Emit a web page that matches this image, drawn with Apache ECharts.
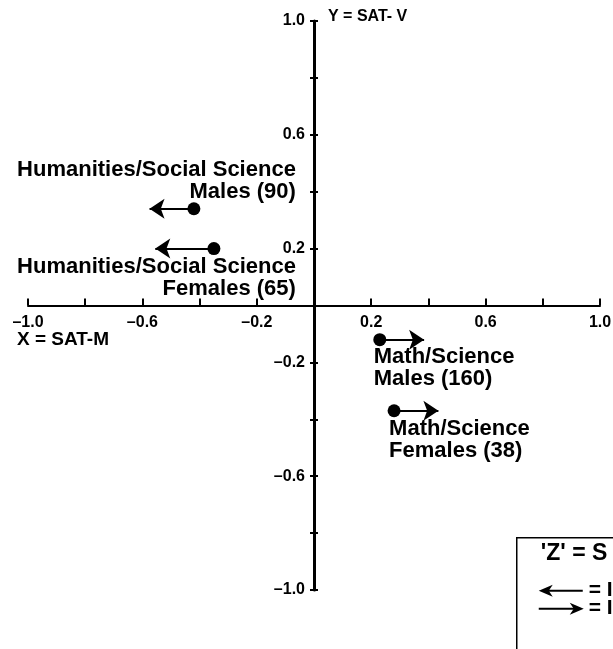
<!DOCTYPE html>
<html>
<head>
<meta charset="utf-8">
<script src="https://cdn.jsdelivr.net/npm/echarts@6/dist/echarts.min.js"></script>
<style>
  html, body { margin: 0; padding: 0; background: #fff; }
  #chart { width: 613px; height: 649px; }
</style>
</head>
<body>
<div id="chart"></div>
<script>
// groups, their (X = SAT-M, Y = SAT-V) position and where the arrow ends
const groupNames = [
  'Humanities/Social Science\nMales (90)',
  'Humanities/Social Science\nFemales (65)',
  'Math/Science\nMales (160)',
  'Math/Science\nFemales (38)',
];
const satM = [-0.42, -0.35, 0.23, 0.28];
const satV = [0.34, 0.20, -0.12, -0.37];
const arrowEnd = [-0.575, -0.555, 0.385, 0.435];

// tick labels (only every other tick gets one)
const tickValues = [-1.0, -0.6, -0.2, 0.2, 0.6, 1.0];
const tickLabels = ['–1.0', '–0.6', '–0.2', '0.2', '0.6', '1.0'];

const FONT = 'Liberation Sans';
// grid box, the axes are moved into its middle (the origin)
const GRID = { left: 28, right: 13, top: 21, bottom: 59 };
const W = 613, H = 649;
const midX = (W - GRID.left - GRID.right) / 2;
const midY = (H - GRID.top - GRID.bottom) / 2;

function tickFormatter(v) {
  const i = tickValues.findIndex((t) => Math.abs(t - v) < 1e-6);
  return i >= 0 ? tickLabels[i] : '';
}

// label placement for each group, relative to its dot
const labelPlace = [
  { align: 'right', offset: [102, -28] },
  { align: 'right', offset: [82, 29] },
  { align: 'left', offset: [-6, 28] },
  { align: 'left', offset: [-5, 29] },
];

const points = satM.map((x, i) => ({
  value: [x, satV[i]],
  name: groupNames[i],
  label: {
    show: true,
    position: 'inside',
    align: labelPlace[i].align,
    verticalAlign: 'middle',
    offset: labelPlace[i].offset,
    formatter: '{b}',
  },
}));

const arrows = satM.map((x, i) => [
  { coord: [x, satV[i]] },
  { coord: [arrowEnd[i], satV[i]] },
]);

const axisLabelStyle = {
  color: '#000',
  fontFamily: FONT,
  fontWeight: 'bold',
  fontSize: 16,
  formatter: tickFormatter,
};

const chart = echarts.init(document.getElementById('chart'));
chart.setOption({
  animation: false,
  backgroundColor: '#fff',
  grid: Object.assign({ outerBoundsMode: 'none', containLabel: false }, GRID),
  xAxis: {
    type: 'value',
    min: -1,
    max: 1,
    interval: 0.2,
    position: 'bottom',
    offset: -midY,
    splitLine: { show: false },
    axisLine: { onZero: false, lineStyle: { color: '#000', width: 2 } },
    axisTick: { inside: true, length: 7, lineStyle: { color: '#000', width: 2 } },
    axisLabel: Object.assign({ margin: 9, showMinLabel: true, showMaxLabel: true }, axisLabelStyle),
  },
  yAxis: [
    {
      type: 'value',
      min: -1,
      max: 1,
      interval: 0.2,
      position: 'left',
      offset: -midX,
      splitLine: { show: false },
      axisLine: { onZero: false, lineStyle: { color: '#000', width: 3 } },
      axisTick: { length: 4, lineStyle: { color: '#000', width: 2 } },
      axisLabel: Object.assign({ margin: 9, showMinLabel: true, showMaxLabel: true }, axisLabelStyle),
    },
    {
      type: 'value',
      min: -1,
      max: 1,
      interval: 0.2,
      position: 'left',
      offset: -midX,
      splitLine: { show: false },
      axisLine: { show: false, onZero: false },
      axisTick: { inside: true, length: 4, lineStyle: { color: '#000', width: 2 } },
      axisLabel: { show: false },
    },
  ],
  series: [
    {
      type: 'scatter',
      symbol: 'circle',
      symbolSize: 13,
      itemStyle: { color: '#000', opacity: 1 },
      label: {
        color: '#000',
        fontFamily: FONT,
        fontWeight: 'bold',
        fontSize: 22,
        lineHeight: 22,
      },
      emphasis: { disabled: true },
      data: points,
      z: 5,
      markLine: {
        silent: true,
        animation: false,
        symbol: ['none', 'arrow'],
        symbolSize: 15,
        label: { show: false },
        lineStyle: { color: '#000', width: 2, type: 'solid', opacity: 1 },
        itemStyle: { color: '#000' },
        emphasis: { disabled: true },
        data: arrows,
      },
    },
  ],
  graphic: [
    {
      type: 'text',
      left: 328,
      top: 9,
      style: { text: 'Y = SAT- V', fill: '#000', font: 'bold 16px "' + FONT + '"' },
    },
    {
      type: 'text',
      left: 17,
      top: 330,
      style: { text: 'X = SAT-M', fill: '#000', font: 'bold 19px "' + FONT + '"' },
    },
    {
      type: 'group',
      left: 516,
      top: 537,
      children: [
        { type: 'rect', shape: { x: 0, y: 0, width: 140, height: 140 }, style: { fill: '#fff', stroke: '#000', lineWidth: 1.5 } },
        { type: 'text', x: 24, y: 4, style: { text: "'Z' = S", fill: '#000', font: 'bold 23px "' + FONT + '"' } },
        { type: 'line', shape: { x1: 30, y1: 53, x2: 66, y2: 53 }, style: { stroke: '#000', lineWidth: 2 } },
        { type: 'polygon', shape: { points: [[22, 53], [36, 47], [32, 53], [36, 59]] }, style: { fill: '#000' } },
        { type: 'text', x: 72, y: 42, style: { text: '= I', fill: '#000', font: 'bold 21px "' + FONT + '"' } },
        { type: 'line', shape: { x1: 22, y1: 71, x2: 58, y2: 71 }, style: { stroke: '#000', lineWidth: 2 } },
        { type: 'polygon', shape: { points: [[67, 71], [53, 65], [57, 71], [53, 77]] }, style: { fill: '#000' } },
        { type: 'text', x: 72, y: 60, style: { text: '= I', fill: '#000', font: 'bold 21px "' + FONT + '"' } },
      ],
    },
  ],
});
</script>
</body>
</html>
